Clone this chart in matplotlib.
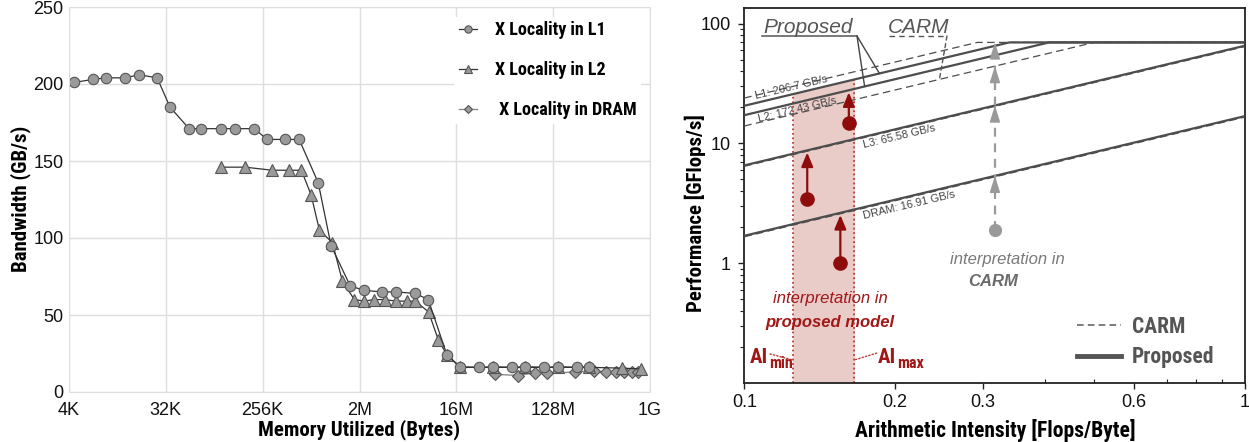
import numpy as np
import matplotlib
matplotlib.use("Agg")
import matplotlib.pyplot as plt
from matplotlib.lines import Line2D
from matplotlib.ticker import NullLocator, FixedLocator, NullFormatter

# ---------------- left panel data ----------------
l1_log2_bytes = [12.16, 12.74, 13.15, 13.74, 14.17, 14.73, 15.13, 15.72, 16.09, 16.71,
                 17.15, 17.74, 18.14, 18.70, 19.13, 19.72, 20.12, 20.71, 21.13, 21.71,
                 22.13, 22.73, 23.13, 23.71, 24.12, 24.71, 25.14, 25.73, 26.14, 26.73,
                 27.15, 27.74, 28.12]
l1_bandwidth = [201, 203, 204, 204, 206, 204, 185, 171, 171, 171,
                171, 171, 164, 164, 164, 136, 95, 69, 66, 65,
                65, 64, 60, 24, 16.4, 16, 16.4, 16, 16.4, 16,
                16.4, 16, 16.4]
l2_log2_bytes = [16.70, 17.45, 18.30, 18.81, 19.20, 19.50, 19.76, 20.16, 20.47, 20.84,
                 21.15, 21.44, 21.78, 22.14, 22.47, 22.73, 23.14, 23.44, 23.71, 24.12,
                 25.14, 26.14, 27.15, 28.12, 29.12, 29.71]
l2_bandwidth = [146, 146, 144, 144, 144, 128, 105, 97, 72, 60,
                59, 60, 60, 59, 59, 59, 52, 34, 24, 16,
                16, 16, 16, 16, 15.5, 15]
dram_log2_bytes = [25.21, 25.92, 26.45, 26.81, 27.69, 28.28, 28.65, 28.96, 29.18, 29.43, 29.64]
dram_bandwidth = [11.5, 10.7, 12.6, 12.1, 13.0, 13.7, 12.9, 12.9, 13.0, 13.0, 13.0]
series_labels = ["X Locality in L1", "X Locality in L2", " X Locality in DRAM"]
mem_tick_log2 = [12, 15, 18, 21, 24, 27, 30]
mem_tick_labels = ["4K", "32K", "256K", "2M", "16M", "128M", "1G"]
bw_ticks = [0, 50, 100, 150, 200, 250]

# ---------------- right panel data ----------------
roof_names = ["L1", "L2", "L3", "DRAM"]
proposed_bw = [206.7, 172.43, 65.58, 16.91]
carm_bw = [240.0, 140.0, 64.5, 16.6]
roof_labels = ["L1: 206.7 GB/s", "L2: 172.43 GB/s", "L3: 65.58 GB/s", "DRAM: 16.91 GB/s"]
peak_gflops = 70.0
ai_min, ai_max = 0.125, 0.166
red_ai = [0.1336, 0.1556, 0.1618]
red_perf = [3.45, 1.0, 14.8]
red_target_bw = [65.58, 16.91, 172.43]
carm_point_ai = 0.317
carm_point_perf = 1.9
carm_arrow_bw = [16.91, 65.58, 140.0]
ai_ticks = [0.1, 0.2, 0.3, 0.6, 1.0]
ai_tick_labels = ["0.1", "0.2", "0.3", "0.6", "1"]
perf_ticks = [1, 10, 100]
perf_tick_labels = ["1", "10", "100"]

COND = ["Liberation Sans Narrow", "Roboto Condensed", "Liberation Sans"]
REG = ["Liberation Sans", "DejaVu Sans"]
plt.rcParams["font.family"] = REG

W, H = 1249, 442
fig = plt.figure(figsize=(W / 100, H / 100), dpi=100)
fig.patch.set_facecolor("white")

# ======================= LEFT PANEL =======================
axL = fig.add_axes([69 / W, 1 - 392 / H, (650 - 69) / W, (392 - 7) / H])
axL.set_xscale("log", base=2)
axL.set_xlim(2.0 ** 12, 2.0 ** 30)
axL.set_ylim(0, 250)
axL.xaxis.set_major_locator(FixedLocator([2.0 ** e for e in mem_tick_log2]))
axL.xaxis.set_minor_locator(NullLocator())
axL.set_xticklabels(mem_tick_labels)
axL.set_yticks(bw_ticks)
axL.grid(True, color="#dedede", lw=1.0)
axL.set_axisbelow(True)
for s in axL.spines.values():
    s.set_color("#dedede")
    s.set_zorder(10)
axL.tick_params(axis="both", length=0, labelsize=13, colors="#111")
axL.tick_params(axis="x", pad=7)
axL.tick_params(axis="y", pad=4)

mfc, mec = "#9a9a9a", "#555555"
axL.plot(2.0 ** np.array(l1_log2_bytes), l1_bandwidth, "-o", color="#333333", lw=0.9,
         ms=7.5, mfc=mfc, mec=mec, mew=0.8, label=series_labels[0], zorder=4)
axL.plot(2.0 ** np.array(l2_log2_bytes), l2_bandwidth, "-^", color="#333333", lw=0.9,
         ms=8, mfc=mfc, mec=mec, mew=0.8, label=series_labels[1], zorder=3)
axL.plot(2.0 ** np.array(dram_log2_bytes), dram_bandwidth, "-D", color="#8a8a8a", lw=1.0,
         ms=6, mfc=mfc, mec=mec, mew=0.8, label=series_labels[2], zorder=2)

leg = axL.legend(loc="upper right", bbox_to_anchor=(1.0, 0.998), frameon=True, fancybox=False,
                 edgecolor="none", framealpha=1.0, handlelength=1.0, handletextpad=1.0,
                 labelspacing=1.21, markerscale=0.7, borderpad=0.25,
                 prop=dict(family=COND, weight="bold", size=13))

axL.set_ylabel("Bandwidth (GB/s)", family=COND, weight="bold", size=15)
axL.yaxis.set_label_coords(-0.065, 0.503)
axL.set_xlabel("Memory Utilized (Bytes)", family=COND, weight="bold", size=15)
axL.xaxis.set_label_coords(0.5, -0.07)

# ======================= RIGHT PANEL =======================
RX0, RX1 = 744.3, 1244.5
axR = fig.add_axes([RX0 / W, 1 - 382.7 / H, (RX1 - RX0) / W, (382.7 - 8.3) / H])
axR.set_xscale("log")
axR.set_yscale("log")
axR.set_xlim(0.1, 1.0)
axR.set_ylim(0.1, 135)
axR.xaxis.set_major_locator(FixedLocator(ai_ticks))
axR.xaxis.set_major_formatter(plt.FixedFormatter(ai_tick_labels))
axR.xaxis.set_minor_locator(FixedLocator([0.4, 0.5, 0.7, 0.8, 0.9]))
axR.xaxis.set_minor_formatter(NullFormatter())
axR.yaxis.set_major_locator(FixedLocator(perf_ticks))
axR.yaxis.set_major_formatter(plt.FixedFormatter(perf_tick_labels))
minors = [m * 10.0 ** d for d in (-1, 0, 1) for m in range(2, 10)]
axR.yaxis.set_minor_locator(FixedLocator(minors))
axR.yaxis.set_minor_formatter(NullFormatter())
for s in axR.spines.values():
    s.set_color("#222222")
    s.set_linewidth(1.3)
axR.tick_params(axis="both", which="major", direction="out", length=4, width=1,
                labelsize=13, colors="#222", labelcolor="#111")
axR.tick_params(axis="y", which="major", pad=6)
axR.tick_params(axis="x", which="major", pad=4)
axR.tick_params(axis="y", which="minor", direction="out", length=3, width=0.8, colors="#222")
axR.tick_params(axis="x", which="minor", direction="in", length=3, width=0.8, colors="#222")

xs = np.logspace(-1, 0, 600)
roof_col = "#4d4d4d"
for bw in proposed_bw:
    axR.plot(xs, np.minimum(bw * xs, peak_gflops), color=roof_col, lw=1.6, zorder=3,
             solid_capstyle="butt")
for bw in carm_bw:
    axR.plot(xs, np.minimum(bw * xs, peak_gflops), color=roof_col, lw=0.9,
             ls=(0, (6, 3.5)), zorder=3)

# shaded region for AI range (under the proposed L1 roof)
red_dark = "#8e0c0c"
red_text = "#a01818"
sx = np.linspace(ai_min, ai_max, 50)
axR.fill_between(sx, 0.1, proposed_bw[0] * sx, color="#e9cbc7", lw=0, zorder=1)
for a in (ai_min, ai_max):
    axR.plot([a, a], [0.1, proposed_bw[0] * a], ls=(0, (1, 1.5)), color="#c23b32", lw=1.3, zorder=2)

# angle of roof lines on screen
p1 = axR.transData.transform((0.2, 0.2 * 10))
p2 = axR.transData.transform((0.4, 0.4 * 10))
ang = np.degrees(np.arctan2(p2[1] - p1[1], p2[0] - p1[0]))

lab_kw = dict(textcoords="offset points", rotation=ang, rotation_mode="anchor",
              fontsize=8, color="#444444", ha="left", zorder=5)
axR.annotate(roof_labels[0], xy=(0.106, proposed_bw[0] * 0.106), xytext=(0, 1.5), va="bottom", **lab_kw)
axR.annotate(roof_labels[1], xy=(0.106, proposed_bw[1] * 0.106), xytext=(0, -1.5), va="top", **lab_kw)
axR.annotate(roof_labels[2], xy=(0.1723, proposed_bw[2] * 0.1723), xytext=(0, -2.5), va="top", **lab_kw)
axR.annotate(roof_labels[3], xy=(0.1723, proposed_bw[3] * 0.1723), xytext=(0, -2.5), va="top", **lab_kw)

# red points with arrows to roofs
for a, p, bw in zip(red_ai, red_perf, red_target_bw):
    axR.annotate("", xy=(a, bw * a * 0.96), xytext=(a, p),
                 arrowprops=dict(arrowstyle="-|>,head_length=0.6,head_width=0.25",
                                 color=red_dark, lw=1.6, mutation_scale=14,
                                 shrinkA=0, shrinkB=0), zorder=6)
axR.plot(red_ai, red_perf, "o", ms=9.5, color=red_dark, zorder=7)

# CARM interpretation (gray dashed arrow)
gray = "#9a9a9a"
axR.plot([carm_point_ai, carm_point_ai], [carm_point_perf, peak_gflops * 0.97], color=gray,
         lw=1.6, ls=(0, (4, 3)), zorder=5)
for lvl in [bw * carm_point_ai for bw in carm_arrow_bw] + [peak_gflops]:
    axR.annotate("", xy=(carm_point_ai, lvl), xytext=(carm_point_ai, lvl * 0.94),
                 arrowprops=dict(arrowstyle="-|>,head_length=0.7,head_width=0.22",
                                 color=gray, lw=1.2, mutation_scale=14,
                                 shrinkA=0, shrinkB=0), zorder=6)
axR.plot([carm_point_ai], [carm_point_perf], "o", ms=8.5, color=gray, zorder=7)


def fx(px):
    return (px - RX0) / (RX1 - RX0)


# texts
axR.text(fx(830), 0.2236, "interpretation in", transform=axR.transAxes, ha="center", va="center",
         fontsize=12, style="italic", color=red_text)
axR.text(fx(830), 0.162, "proposed model", transform=axR.transAxes, ha="center", va="center",
         fontsize=12, style="italic", weight="bold", color=red_text)
axR.text(fx(1007), 0.328, "interpretation in", transform=axR.transAxes, ha="center", va="center",
         fontsize=12, style="italic", color="#7a7a7a")
axR.text(fx(993), 0.269, "CARM", transform=axR.transAxes, ha="center", va="center",
         fontsize=12, style="italic", weight="bold", color="#6a6a6a")

# AI min / max labels
for xf, sub in ((fx(750), "min"), (fx(878), "max")):
    t = axR.text(xf, 0.0518, "AI", transform=axR.transAxes, ha="left", va="baseline",
                 family=COND, weight="bold", fontsize=15, color=red_text)
    axR.annotate(sub, xy=(1, 0), xycoords=t, xytext=(0.5, -2.5), textcoords="offset points",
                 ha="left", va="bottom", family=COND, weight="bold", fontsize=11.5, color=red_text)
lead_kw = dict(arrowstyle="-", color="#c23b32", lw=1.0, ls=(0, (1, 1.5)), shrinkA=0, shrinkB=0)
axR.annotate("", xy=(ai_min, 0.155), xytext=(fx(770), 0.0767), textcoords=axR.transAxes, arrowprops=lead_kw)
axR.annotate("", xy=(ai_max, 0.155), xytext=(fx(876.7), 0.079), textcoords=axR.transAxes, arrowprops=lead_kw)

# "Proposed" and "CARM" callouts
axR.text(fx(808), 0.95, "Proposed", transform=axR.transAxes, ha="center", va="center",
         fontsize=15, style="italic", color="#555555")
axR.text(fx(918.5), 0.95, "CARM", transform=axR.transAxes, ha="center", va="center",
         fontsize=15, style="italic", color="#555555")
axR.add_line(Line2D([fx(762), fx(857)], [0.926, 0.926], transform=axR.transAxes, color="#555555", lw=1.1))
axR.add_line(Line2D([fx(889), fx(947)], [0.926, 0.926], transform=axR.transAxes, color="#555555",
                    lw=1.0, ls=(0, (4, 3))))
for xa, bw in ((0.1863, proposed_bw[0]), (0.174, proposed_bw[1])):
    axR.annotate("", xy=(xa, bw * xa), xytext=(fx(857), 0.926), textcoords=axR.transAxes,
                 arrowprops=dict(arrowstyle="-", color="#444444", lw=1.0, shrinkA=0, shrinkB=0))
axR.annotate("", xy=(0.2455, carm_bw[1] * 0.2455), xytext=(fx(947), 0.926), textcoords=axR.transAxes,
             arrowprops=dict(arrowstyle="-", color="#555555", lw=1.0, ls=(0, (3, 2.5)),
                             shrinkA=0, shrinkB=0))

# legend (right)
handles = [Line2D([], [], color="#666666", lw=1.2, ls=(0, (4, 2.5))),
           Line2D([], [], color="#555555", lw=3.5)]
axR.legend(handles, ["CARM", "Proposed"], loc="lower right", bbox_to_anchor=(fx(1225), 0.01),
           frameon=False, borderpad=0, handlelength=2.05, handletextpad=0.5, labelspacing=0.4,
           prop=dict(family=COND, weight="bold", size=15.5), labelcolor="#555555")

axR.set_ylabel("Performance [GFlops/s]", family=COND, weight="bold", size=15)
axR.yaxis.set_label_coords(-0.076, 0.453)
axR.set_xlabel("Arithmetic Intensity [Flops/Byte]", family=COND, weight="bold", size=15.5)
axR.xaxis.set_label_coords(fx(995), -0.097)

fig.savefig("out.png", dpi=100, facecolor="white")
